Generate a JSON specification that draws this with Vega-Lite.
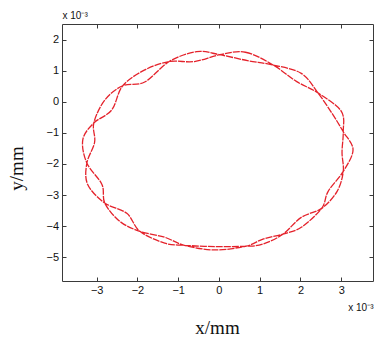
{
  "$schema": "https://vega.github.io/schema/vega-lite/v6.json",
  "width": 311,
  "height": 257,
  "autosize": {"type": "none"},
  "padding": {"left": 62, "top": 24, "right": 3, "bottom": 57},
  "background": "white",
  "config": {
    "view": {"stroke": null},
    "axis": {
      "grid": false,
      "domainColor": "#3a3a3a",
      "tickColor": "#3a3a3a",
      "labelFont": "Liberation Sans",
      "labelFontSize": 11,
      "labelColor": "#111111",
      "tickSize": -4,
      "domainWidth": 1,
      "tickWidth": 1
    }
  },
  "title": {
    "text": "x/mm",
    "orient": "bottom",
    "font": "Liberation Serif",
    "fontSize": 19,
    "fontWeight": "normal",
    "color": "#111111",
    "offset": 7
  },
  "data": {
    "values": [
      {"i": 1, "x": 0.02, "y": 1.52},
      {"i": 2, "x": 0.65, "y": 1.6},
      {"i": 3, "x": 1.33, "y": 1.19},
      {"i": 4, "x": 1.9, "y": 0.66},
      {"i": 5, "x": 2.43, "y": 0.29},
      {"i": 6, "x": 3.0, "y": -0.3},
      {"i": 7, "x": 3.05, "y": -0.96},
      {"i": 8, "x": 3.02, "y": -1.63},
      {"i": 9, "x": 3.05, "y": -2.24},
      {"i": 10, "x": 2.9, "y": -2.88},
      {"i": 11, "x": 2.52, "y": -3.43},
      {"i": 12, "x": 2.02, "y": -3.72},
      {"i": 13, "x": 1.57, "y": -4.26},
      {"i": 14, "x": 1.08, "y": -4.58},
      {"i": 15, "x": 0.66, "y": -4.65},
      {"i": 16, "x": -0.1, "y": -4.66},
      {"i": 17, "x": -0.85, "y": -4.62},
      {"i": 18, "x": -1.33, "y": -4.55},
      {"i": 19, "x": -1.94, "y": -4.17},
      {"i": 20, "x": -2.26, "y": -3.59},
      {"i": 21, "x": -2.8, "y": -3.26},
      {"i": 22, "x": -3.22, "y": -2.66},
      {"i": 23, "x": -3.24, "y": -1.97},
      {"i": 24, "x": -3.05, "y": -1.3},
      {"i": 25, "x": -3.07, "y": -0.68},
      {"i": 26, "x": -2.8, "y": 0.06},
      {"i": 27, "x": -2.36, "y": 0.52},
      {"i": 28, "x": -1.82, "y": 0.64},
      {"i": 29, "x": -1.22, "y": 1.3},
      {"i": 30, "x": -0.55, "y": 1.62},
      {"i": 31, "x": 0.02, "y": 1.52},
      {"i": 32, "x": 0.7, "y": 1.33},
      {"i": 33, "x": 1.33, "y": 1.19},
      {"i": 34, "x": 2.02, "y": 0.92},
      {"i": 35, "x": 2.43, "y": 0.29},
      {"i": 36, "x": 2.78, "y": -0.38},
      {"i": 37, "x": 3.05, "y": -0.96},
      {"i": 38, "x": 3.29, "y": -1.54},
      {"i": 39, "x": 3.05, "y": -2.24},
      {"i": 40, "x": 2.68, "y": -2.88},
      {"i": 41, "x": 2.52, "y": -3.43},
      {"i": 42, "x": 2.02, "y": -4.04},
      {"i": 43, "x": 1.57, "y": -4.26},
      {"i": 44, "x": 1.08, "y": -4.42},
      {"i": 45, "x": 0.66, "y": -4.65},
      {"i": 46, "x": -0.1, "y": -4.77},
      {"i": 47, "x": -0.85, "y": -4.62},
      {"i": 48, "x": -1.33, "y": -4.36},
      {"i": 49, "x": -1.94, "y": -4.17},
      {"i": 50, "x": -2.43, "y": -3.85},
      {"i": 51, "x": -2.8, "y": -3.26},
      {"i": 52, "x": -2.87, "y": -2.66},
      {"i": 53, "x": -3.24, "y": -1.97},
      {"i": 54, "x": -3.34, "y": -1.22},
      {"i": 55, "x": -3.07, "y": -0.68},
      {"i": 56, "x": -2.63, "y": -0.26},
      {"i": 57, "x": -2.36, "y": 0.52},
      {"i": 58, "x": -1.82, "y": 1.03},
      {"i": 59, "x": -1.22, "y": 1.3},
      {"i": 60, "x": -0.6, "y": 1.3}
    ]
  },
  "layer": [
    {
      "mark": {"type": "line", "interpolate": "cardinal-closed", "color": "#e4222b", "strokeWidth": 1.3, "strokeDash": [7, 1]},
      "encoding": {
        "x": {
          "field": "x", "type": "quantitative",
          "scale": {"domain": [-3.85, 3.78], "nice": false, "zero": false},
          "axis": {
            "orient": "bottom",
            "values": [-3, -2, -1, 0, 1, 2, 3],
            "labelPadding": 7,
            "title": "x 10⁻³",
            "titleAnchor": "end",
            "titleFont": "Liberation Sans",
            "titleFontSize": 10,
            "titleFontWeight": "normal",
            "titleColor": "#111111",
            "titlePadding": 7
          }
        },
        "y": {
          "field": "y", "type": "quantitative",
          "scale": {"domain": [-5.77, 2.51], "nice": false, "zero": false},
          "axis": {
            "orient": "left",
            "values": [-5, -4, -3, -2, -1, 0, 1, 2],
            "labelPadding": 7.5,
            "title": "y/mm",
            "titleFont": "Liberation Serif",
            "titleFontSize": 19,
            "titleFontWeight": "normal",
            "titleColor": "#111111",
            "titlePadding": 19,
            "titleY": 144
          }
        },
        "order": {"field": "i", "type": "quantitative"}
      }
    },
    {
      "mark": {"type": "line", "opacity": 0},
      "encoding": {
        "x": {
          "field": "x", "type": "quantitative",
          "scale": {"domain": [-3.85, 3.78], "nice": false, "zero": false},
          "axis": {
            "orient": "top",
            "values": [-3, -2, -1, 0, 1, 2, 3],
            "labels": false,
            "title": "x 10⁻³",
            "titleAnchor": "start",
            "titleFont": "Liberation Sans",
            "titleFontSize": 10,
            "titleFontWeight": "normal",
            "titleColor": "#111111",
            "titlePadding": 3
          }
        },
        "y": {
          "field": "y", "type": "quantitative",
          "scale": {"domain": [-5.77, 2.51], "nice": false, "zero": false},
          "axis": {
            "orient": "right",
            "values": [-5, -4, -3, -2, -1, 0, 1, 2],
            "labels": false,
            "title": null
          }
        },
        "order": {"field": "i", "type": "quantitative"}
      }
    }
  ],
  "resolve": {"axis": {"x": "independent", "y": "independent"}}
}
